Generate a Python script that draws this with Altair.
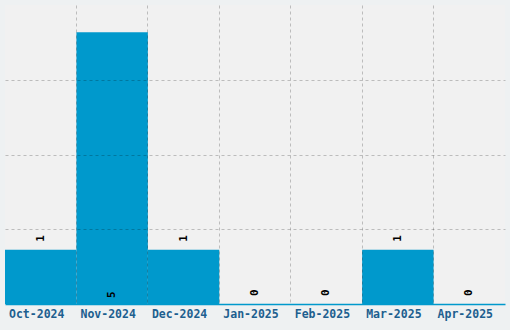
import altair as alt
import pandas as pd

months = ["Oct-2024", "Nov-2024", "Dec-2024", "Jan-2025", "Feb-2025", "Mar-2025", "Apr-2025"]
counts = [1, 5, 1, 0, 0, 1, 0]
grid_months = months[1:]
y_grid = [1.375, 2.75, 4.125]

df = pd.DataFrame({"month": months, "count": counts})

BAR = "#0099cc"
xscale = alt.Scale(domain=months, paddingInner=0, paddingOuter=0)
yscale = alt.Scale(domain=[0, 5.5], nice=False, zero=True)

base = alt.Chart(df)

bars = base.mark_bar(color=BAR, opacity=1).encode(
    x=alt.X("month:N", scale=xscale, sort=months,
            axis=alt.Axis(title=None, labelAngle=0, grid=False, ticks=False,
                          domain=True, domainColor=BAR, domainWidth=1.5,
                          labelFont="DejaVu Sans Mono", labelFontWeight="bold",
                          labelFontSize=11.5, labelColor="#1d5f8f", labelPadding=4,
                          labelOffset=-4, orient="bottom", zindex=0)),
    y=alt.Y("count:Q", scale=yscale, axis=None),
)

gridx = base.mark_bar(opacity=0).encode(
    x=alt.X("month:N", scale=xscale, sort=months,
            axis=alt.Axis(title=None, values=grid_months, labels=False, ticks=False,
                          domain=False, grid=True, bandPosition=0,
                          gridColor="#000000", gridOpacity=0.22, gridDash=[3, 3],
                          gridWidth=1, orient="bottom", zindex=1)),
    y=alt.Y("count:Q", scale=yscale,
            axis=alt.Axis(title=None, values=y_grid, labels=False, ticks=False,
                          domain=False, grid=True, gridColor="#000000",
                          gridOpacity=0.22, gridDash=[3, 3], gridWidth=1, zindex=1)),
)

text_top = base.transform_joinaggregate(mx="max(count)").transform_filter(
    "datum.count < datum.mx"
).mark_text(angle=270, align="left", baseline="middle", dx=8,
            font="DejaVu Sans Mono", fontWeight="bold", fontSize=11, color="#000000").encode(
    x=alt.X("month:N", scale=xscale, sort=months, axis=None),
    y=alt.Y("count:Q", scale=yscale, axis=None),
    text="count:Q",
)

text_in = base.transform_joinaggregate(mx="max(count)").transform_filter(
    "datum.count == datum.mx"
).transform_calculate(base0="0").mark_text(
    angle=270, align="left", baseline="middle", dx=6,
    font="DejaVu Sans Mono", fontWeight="bold", fontSize=11, color="#000000").encode(
    x=alt.X("month:N", scale=xscale, sort=months, axis=None),
    y=alt.Y("base0:Q", scale=yscale, axis=None),
    text="count:Q",
)

chart = alt.layer(bars, gridx, text_top, text_in).resolve_axis(
    x="independent", y="independent"
).properties(
    width=500, height=299,
    autosize=alt.AutoSizeParams(type="none"),
    padding={"left": 5, "top": 5, "right": 5, "bottom": 26},
    background="#eef1f2",
).configure_view(fill="#f1f1f1", stroke=None)

chart.save("out.html", embed_options={"renderer": "svg", "actions": False})
